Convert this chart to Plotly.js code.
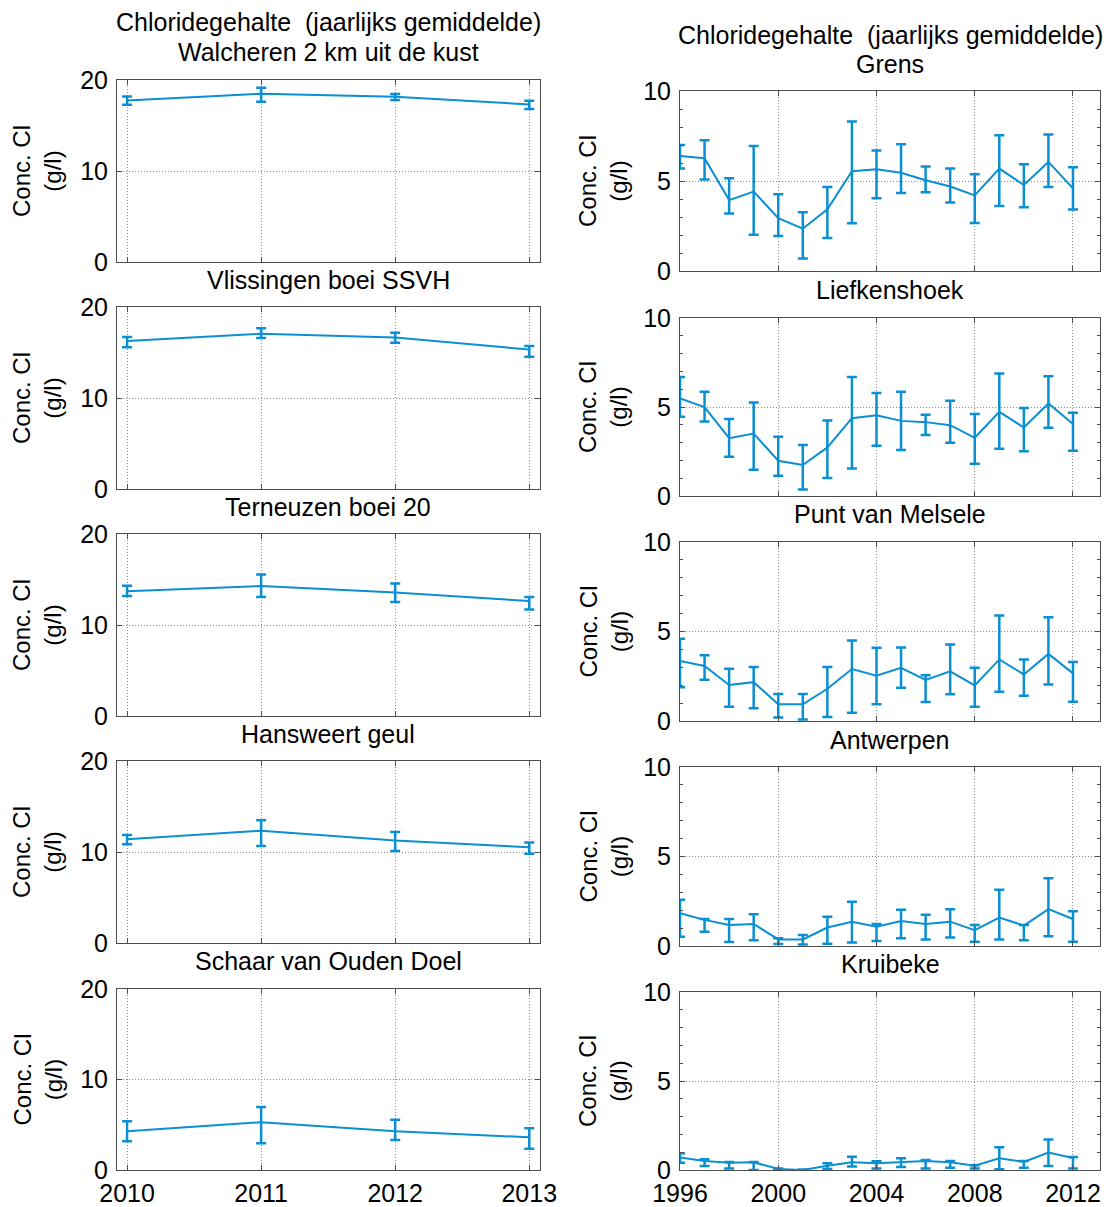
<!DOCTYPE html>
<html>
<head>
<meta charset="utf-8">
<script src="https://cdn.plot.ly/plotly-3.0.1.min.js"></script>
<style>html,body{margin:0;padding:0;background:#fff;}#chart{width:1107px;height:1207px;}</style>
</head>
<body>
<div id="chart"></div>
<script>
// ---------- DATA ----------
const yearsLeft = [2010, 2011, 2012, 2013];
const yearsRight = [1996,1997,1998,1999,2000,2001,2002,2003,2004,2005,2006,2007,2008,2009,2010,2011,2012];

const leftTitles = ["Walcheren 2 km uit de kust", "Vlissingen boei SSVH", "Terneuzen boei 20", "Hansweert geul", "Schaar van Ouden Doel"];
const rightTitles = ["Grens", "Liefkenshoek", "Punt van Melsele", "Antwerpen", "Kruibeke"];
const mainTitle = "Chloridegehalte \u00A0(jaarlijks gemiddelde)";
const yLabel = "Conc. Cl<br>(g/l)";

// Left column: mean, upper and lower error-bar ends
const walcherenMean = [17.76, 18.50, 18.17, 17.32];
const walcherenHi   = [18.20, 19.16, 18.46, 17.72];
const walcherenLo   = [17.28, 17.60, 17.80, 16.80];

const vlissingenMean = [16.25, 17.06, 16.65, 15.32];
const vlissingenHi   = [16.70, 17.66, 17.17, 15.72];
const vlissingenLo   = [15.58, 16.58, 16.06, 14.54];

const terneuzenMean = [13.72, 14.28, 13.57, 12.64];
const terneuzenHi   = [14.31, 15.54, 14.57, 13.09];
const terneuzenLo   = [13.20, 13.09, 12.53, 11.71];

const hansweertMean = [11.41, 12.34, 11.26, 10.52];
const hansweertHi   = [11.86, 13.49, 12.19, 11.04];
const hansweertLo   = [10.86, 10.67, 10.11, 9.81];

const schaarMean = [4.28, 5.28, 4.28, 3.62];
const schaarHi   = [5.39, 6.97, 5.54, 4.61];
const schaarLo   = [3.17, 2.95, 3.32, 2.36];

// Right column
const grensMean = [6.39, 6.26, 3.94, 4.41, 2.94, 2.35, 3.43, 5.54, 5.65, 5.46, 5.04, 4.69, 4.20, 5.69, 4.78, 6.06, 4.59];
const grensHi   = [7.00, 7.26, 5.15, 6.94, 4.26, 3.26, 4.67, 8.30, 6.70, 7.04, 5.80, 5.69, 5.37, 7.54, 5.93, 7.59, 5.76];
const grensLo   = [5.69, 5.09, 3.19, 2.02, 1.94, 0.69, 1.83, 2.65, 4.04, 4.33, 4.37, 3.81, 2.67, 3.61, 3.54, 4.67, 3.41];

const liefMean = [5.48, 4.99, 3.25, 3.51, 1.98, 1.74, 2.73, 4.37, 4.54, 4.22, 4.15, 3.98, 3.27, 4.73, 3.85, 5.20, 4.04];
const liefHi   = [6.69, 5.85, 4.32, 5.25, 3.33, 2.86, 4.24, 6.69, 5.79, 5.85, 4.56, 5.35, 4.60, 6.88, 4.95, 6.73, 4.67];
const liefLo   = [4.45, 4.19, 2.21, 1.48, 1.14, 0.37, 1.01, 1.55, 2.82, 2.58, 3.42, 2.99, 1.81, 2.65, 2.52, 3.83, 2.54];

const puntMean = [3.35, 3.07, 2.01, 2.17, 0.93, 0.93, 1.80, 2.90, 2.53, 2.97, 2.30, 2.77, 1.99, 3.44, 2.60, 3.75, 2.66];
const puntHi   = [4.59, 3.68, 2.92, 3.01, 1.51, 1.51, 3.01, 4.50, 4.09, 4.11, 2.55, 4.28, 2.97, 5.89, 3.44, 5.80, 3.29];
const puntLo   = [1.88, 2.30, 0.80, 0.71, 0.20, 0.09, 0.22, 0.46, 0.93, 1.86, 1.06, 1.49, 0.80, 1.64, 1.41, 2.04, 1.08];

const antwMean = [1.83, 1.46, 1.18, 1.23, 0.37, 0.37, 1.03, 1.36, 1.08, 1.40, 1.23, 1.36, 0.88, 1.59, 1.14, 2.06, 1.51];
const antwHi   = [2.58, 1.51, 1.51, 1.78, 0.43, 0.62, 1.63, 2.47, 1.23, 2.02, 1.74, 2.06, 1.18, 3.14, 1.18, 3.78, 1.94];
const antwLo   = [0.52, 0.80, 0.22, 0.32, 0.11, 0.09, 0.13, 0.19, 0.28, 0.43, 0.37, 0.47, 0.24, 0.37, 0.32, 0.54, 0.24];

const kruiMean = [0.70, 0.51, 0.41, 0.43, 0.06, 0.00, 0.24, 0.43, 0.38, 0.45, 0.51, 0.43, 0.24, 0.66, 0.45, 0.98, 0.68];
const kruiHi   = [0.94, 0.60, 0.45, 0.45, 0.09, 0.03, 0.38, 0.75, 0.49, 0.66, 0.56, 0.51, 0.26, 1.28, 0.51, 1.71, 0.73];
const kruiLo   = [0.41, 0.23, 0.09, 0.00, 0.03, 0.00, 0.06, 0.19, 0.08, 0.17, 0.08, 0.13, 0.08, 0.04, 0.13, 0.23, 0.08];

// ---------- LAYOUT ----------
const W = 1107, H = 1207;
const fx = p => p / W;
const fy = p => 1 - p / H;
const FONT = "Liberation Sans, Arial, Helvetica, sans-serif";
const BLUE = "#0a8fd2";
const FRAME = "#4d4d4d";
const GRID = "#8a8a8a";

const leftSeries = [
  [walcherenMean, walcherenHi, walcherenLo],
  [vlissingenMean, vlissingenHi, vlissingenLo],
  [terneuzenMean, terneuzenHi, terneuzenLo],
  [hansweertMean, hansweertHi, hansweertLo],
  [schaarMean, schaarHi, schaarLo]
];
const rightSeries = [
  [grensMean, grensHi, grensLo],
  [liefMean, liefHi, liefLo],
  [puntMean, puntHi, puntLo],
  [antwMean, antwHi, antwLo],
  [kruiMean, kruiHi, kruiLo]
];

const leftTop = [80, 307, 534, 761, 989], leftBot = [262, 489, 716, 943, 1170];
const rightTop = [91, 318, 542, 767, 992], rightBot = [271, 496, 721, 946, 1170];
const leftTitleY = [52, 280, 507, 734, 961];
const rightTitleY = [64, 290, 514, 740, 964];

const traces = [];
const layout = {
  width: W, height: H,
  margin: {l: 0, r: 0, t: 0, b: 0},
  paper_bgcolor: "#fff", plot_bgcolor: "#fff",
  showlegend: false,
  font: {family: FONT, size: 25, color: "#000"},
  annotations: []
};

function makeTrace(x, s, idx) {
  const [m, hi, lo] = s;
  return {
    type: "scatter", mode: "lines",
    x: x, y: m,
    xaxis: "x" + (idx === 1 ? "" : idx), yaxis: "y" + (idx === 1 ? "" : idx),
    line: {color: BLUE, width: 2},
    error_y: {
      type: "data", symmetric: false,
      array: m.map((v, i) => hi[i] - v),
      arrayminus: m.map((v, i) => v - lo[i]),
      color: BLUE, thickness: 2.5, width: 5
    },
    hoverinfo: "skip"
  };
}

function axisCommon() {
  return {
    showline: true, linecolor: FRAME, linewidth: 1, mirror: "allticks",
    ticks: "inside", ticklen: 5, tickcolor: FRAME,
    showgrid: true, gridcolor: GRID, griddash: "1px,2px", gridwidth: 1,
    zeroline: false, fixedrange: true,
    tickfont: {family: FONT, size: 25, color: "#000"}
  };
}

function addText(x, y, text, opts) {
  layout.annotations.push(Object.assign({
    xref: "paper", yref: "paper", x: fx(x), y: fy(y),
    xanchor: "center", yanchor: "middle", showarrow: false,
    text: text, font: {family: FONT, size: 25, color: "#000"}
  }, opts || {}));
}

for (let i = 0; i < 5; i++) {
  const li = 2 * i + 1, ri = 2 * i + 2;
  traces.push(makeTrace(yearsLeft, leftSeries[i], li));
  traces.push(makeTrace(yearsRight, rightSeries[i], ri));
  const lk = li === 1 ? "" : li, rk = ri;

  layout["xaxis" + lk] = Object.assign(axisCommon(), {
    domain: [fx(117), fx(540)], range: [2009.925, 2013.08],
    tickvals: yearsLeft, ticktext: yearsLeft.map(String),
    showticklabels: i === 4, anchor: "y" + lk, ticklabelstandoff: 1
  });
  layout["yaxis" + lk] = Object.assign(axisCommon(), {
    domain: [fy(leftBot[i]), fy(leftTop[i])], range: [0, 20], dtick: 10,
    anchor: "x" + lk, ticklabelstandoff: 3
  });
  layout["xaxis" + rk] = Object.assign(axisCommon(), {
    domain: [fx(680), fx(1100)], range: [1996, 2013.1],
    tickvals: [1996, 2000, 2004, 2008, 2012],
    showticklabels: i === 4, anchor: "y" + rk, ticklabelstandoff: 1
  });
  layout["yaxis" + rk] = Object.assign(axisCommon(), {
    domain: [fy(rightBot[i]), fy(rightTop[i])], range: [0, 10], dtick: 5,
    anchor: "x" + rk, ticklabelstandoff: 3,
    minor: {ticks: "inside", dtick: 1, ticklen: 3, tickcolor: FRAME, showgrid: false}
  });

  // panel titles
  addText(328, leftTitleY[i], leftTitles[i]);
  addText(890, rightTitleY[i], rightTitles[i]);
  // y labels
  addText(37, (leftTop[i] + leftBot[i]) / 2, yLabel, {textangle: -90, font: {family: FONT, size: 24, color: "#000"}});
  addText(603, (rightTop[i] + rightBot[i]) / 2, yLabel, {textangle: -90, font: {family: FONT, size: 24, color: "#000"}});
}
// main titles
addText(328, 22, mainTitle);
addText(890, 35, mainTitle);

Plotly.newPlot("chart", traces, layout, {staticPlot: true, displayModeBar: false});
</script>
</body>
</html>
